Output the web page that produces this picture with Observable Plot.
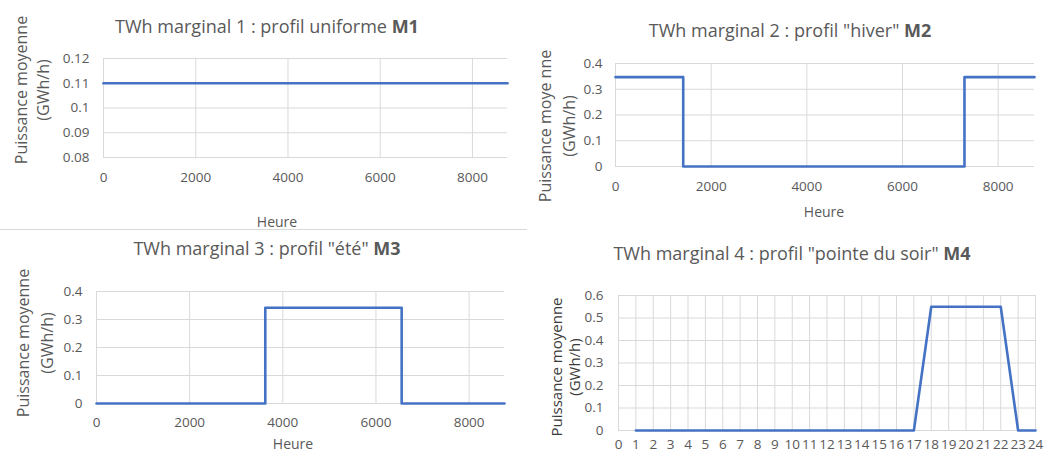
<!DOCTYPE html>
<html><head><meta charset="utf-8">
<script src="https://cdn.jsdelivr.net/npm/d3@7"></script>
<script src="https://cdn.jsdelivr.net/npm/@observablehq/plot@0.6"></script>
<style>
body{margin:0;background:#fff;font-family:"Open Sans",sans-serif;color:#595959;}
#root{position:relative;width:1057px;height:454px;overflow:hidden;background:#fff;}
.panel{position:absolute;}
.title{position:absolute;font-size:18px;white-space:nowrap;transform:translate(-50%,-50%);color:#595959;}
.title b{font-weight:700;}
.xlab{position:absolute;font-size:14px;line-height:16px;white-space:nowrap;transform:translate(-50%,-50%);}
.ylab{position:absolute;font-size:16px;white-space:nowrap;text-align:center;line-height:22px;transform:translate(-50%,-50%) rotate(-90deg);}
.sep{position:absolute;left:0;top:229px;width:527px;height:1px;background:#d9d9d9;}
</style></head><body><div id="root"></div>
<script>
// ---- data ----
const hoursM1 = [0, 8760];
const valuesM1 = [0.11, 0.11];
const hoursM2 = [0, 1416, 7296, 8760];
const valuesM2 = [0.347, 0, 0.347, 0.347];
const hoursM3 = [0, 3624, 6552, 8760];
const valuesM3 = [0, 0.342, 0, 0];
const hoursM4 = [1,2,3,4,5,6,7,8,9,10,11,12,13,14,15,16,17,18,19,20,21,22,23,24];
const valuesM4 = [0,0,0,0,0,0,0,0,0,0,0,0,0,0,0,0,0,0.55,0.55,0.55,0.55,0.55,0,0];
const yearTicks = [0, 2000, 4000, 6000, 8000];
const dayTicks = [0,1,2,3,4,5,6,7,8,9,10,11,12,13,14,15,16,17,18,19,20,21,22,23,24];
const yTicksM1 = [0.08, 0.09, 0.1, 0.11, 0.12];
const yTicksM23 = [0, 0.1, 0.2, 0.3, 0.4];
const yTicksM4 = [0, 0.1, 0.2, 0.3, 0.4, 0.5, 0.6];
const titles = [
  ["TWh marginal 1 : profil uniforme ", "M1"],
  ["TWh marginal 2 : profil \"hiver\" ", "M2"],
  ["TWh marginal 3 : profil \"été\" ", "M3"],
  ["TWh marginal 4 : profil \"pointe du soir\" ", "M4"]
];
const yTitles = ["Puissance moyenne", "Puissance moye nne", "Puissance moyenne", "Puissance moyenne"];
const yUnit = "(GWh/h)";
const xTitle = "Heure";

const root = document.getElementById("root");
const BLUE = "#4472c4", GRID = "#d9d9d9";

function panel(o) {
  const data = o.xs.map((x, i) => ({x, y: o.ys[i]}));
  const svg = Plot.plot({
    width: o.width, height: o.height,
    marginLeft: o.mL, marginRight: o.mR, marginTop: o.mT, marginBottom: o.mB,
    x: {type: "linear", domain: o.xDomain},
    y: {type: "linear", domain: o.yDomain},
    style: {fontFamily: "Open Sans", fontSize: "13.5px", color: "#595959", background: "transparent", overflow: "visible"},
    marks: [
      Plot.gridX(o.xTicks, {stroke: GRID, strokeOpacity: 1, strokeWidth: 1}),
      Plot.gridY(o.yTicks, {stroke: GRID, strokeOpacity: 1, strokeWidth: 1}),
      Plot.axisX(o.xTicks, {tickSize: 0, tickPadding: o.xPad, tickFormat: d => String(d), label: null}),
      Plot.axisY(o.yTicks, {tickSize: 0, tickPadding: o.yPad, tickFormat: d => String(d), label: null}),
      Plot.line(data, {x: "x", y: "y", stroke: BLUE, strokeWidth: 2.6, curve: o.curve})
    ]
  });
  const div = document.createElement("div");
  div.className = "panel";
  div.style.left = o.left + "px";
  div.style.top = o.top + "px";
  div.appendChild(svg);
  root.appendChild(div);
}

function addTitle(t, x, y) {
  const d = document.createElement("div");
  d.className = "title";
  d.style.left = x + "px"; d.style.top = y + "px";
  d.appendChild(document.createTextNode(t[0]));
  const b = document.createElement("b"); b.textContent = t[1]; d.appendChild(b);
  root.appendChild(d);
}
function addXLab(x, y) {
  const d = document.createElement("div");
  d.className = "xlab"; d.textContent = xTitle;
  d.style.left = x + "px"; d.style.top = y + "px";
  root.appendChild(d);
}
function addYLab(text, x, y, extra) {
  const d = document.createElement("div");
  d.className = "ylab";
  d.appendChild(document.createTextNode(text));
  d.appendChild(document.createElement("br"));
  d.appendChild(document.createTextNode(yUnit));
  d.style.left = x + "px"; d.style.top = y + "px";
  if (extra) Object.assign(d.style, extra);
  root.appendChild(d);
}

// Panel 1
panel({left: 0, top: 40, width: 527, height: 160, mL: 103, mR: 20, mT: 18, mB: 43,
  xDomain: [0, 8760], yDomain: [0.08, 0.12], xTicks: yearTicks, yTicks: yTicksM1,
  xs: hoursM1, ys: valuesM1, curve: "linear", xPad: 15, yPad: 14});
addTitle(titles[0], 267, 26);
addXLab(277, 222);
addYLab(yTitles[0], 32, 90);

// Panel 2
panel({left: 527, top: 40, width: 530, height: 166, mL: 88, mR: 23, mT: 23, mB: 40,
  xDomain: [0, 8760], yDomain: [0, 0.4], xTicks: yearTicks, yTicks: yTicksM23,
  xs: hoursM2, ys: valuesM2, curve: "step-after", xPad: 15, yPad: 13});
addTitle(titles[1], 790, 30);
addXLab(824, 212);
addYLab(yTitles[1], 557, 126, {lineHeight: "24px"});

// Panel 3
panel({left: 0, top: 265, width: 527, height: 178, mL: 96, mR: 23, mT: 26, mB: 40,
  xDomain: [0, 8760], yDomain: [0, 0.4], xTicks: yearTicks, yTicks: yTicksM23,
  xs: hoursM3, ys: valuesM3, curve: "step-after", xPad: 14, yPad: 14});
addTitle(titles[2], 267, 248);
addXLab(293, 444);
addYLab(yTitles[2], 35, 343, {lineHeight: "24px"});

// Panel 4
panel({left: 527, top: 270, width: 530, height: 184, mL: 91, mR: 22, mT: 25, mB: 24,
  xDomain: [0, 24], yDomain: [0, 0.6], xTicks: dayTicks, yTicks: yTicksM4,
  xs: hoursM4, ys: valuesM4, curve: "linear", xPad: 9, yPad: 15});
addTitle(titles[3], 792, 253);
addYLab(yTitles[3], 565, 367, {fontSize: "15px", color: "#3a3a3a", lineHeight: "18px", fontWeight: "500"});

const sep = document.createElement("div"); sep.className = "sep"; root.appendChild(sep);
</script></body></html>
